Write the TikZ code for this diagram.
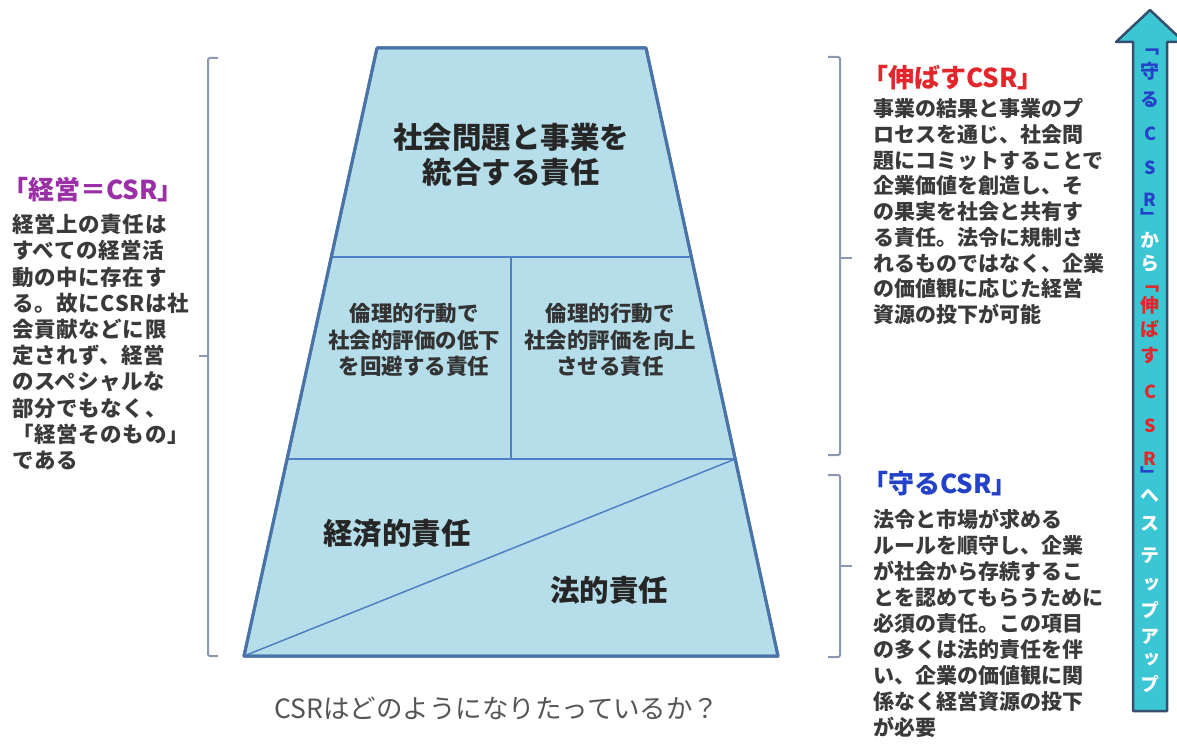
\documentclass[tikz,border=0pt]{standalone}
\usepackage{fontspec}
\setmainfont{Noto Sans CJK JP}
\newfontfamily\cjkv{Noto Sans CJK JP}[RawFeature=+vert]
\newfontfamily\cjkls{Noto Sans CJK JP}[LetterSpace=3]
\usetikzlibrary{calc}
\definecolor{trapfill}{HTML}{B5DEEA}
\definecolor{trapline}{HTML}{4A74A8}
\definecolor{innerline}{HTML}{4F80C4}
\definecolor{brk}{HTML}{8C98B2}
\definecolor{bodytxt}{HTML}{3A3A3A}
\definecolor{purpT}{HTML}{9A2FA6}
\definecolor{redT}{HTML}{E3262B}
\definecolor{blueT}{HTML}{2342C8}
\definecolor{arrowfill}{HTML}{3CC6D3}
\definecolor{arrowline}{HTML}{34506E}
\definecolor{qgray}{HTML}{555555}
\begin{document}
\begin{tikzpicture}[x=1pt,y=-1pt,
  bracketline/.style={draw=brk,line width=2pt,rounded corners=2pt},
  trapout/.style={draw=trapline,line width=3pt,fill=trapfill,line join=round},
  trapin/.style={draw=innerline,line width=1.5pt},
  bigtxt/.style={font=\bfseries\fontsize{29.5}{35}\selectfont,text=black!85,align=center,inner sep=0},
  midtxt/.style={font=\bfseries\fontsize{21.5}{26.5}\selectfont,text=black!80,align=center,inner sep=0},
  titletxt/.style={font=\bfseries\fontsize{26}{28}\selectfont,anchor=west,inner sep=0},
  bodyblock/.style={text=bodytxt,align=left,anchor=north west,inner sep=0},
  vchar/.style={font=\bfseries\cjkv\fontsize{19}{19}\selectfont,inner sep=0},
  vlat/.style={font=\bfseries\fontsize{18}{18}\selectfont,inner sep=0}]
\useasboundingbox (0,0) rectangle (1177,751);
\fill[white] (0,0) rectangle (1177,751);

% trapezoid
\coordinate (TL) at (377,48);
\coordinate (TR) at (646,48);
\coordinate (BL) at (244,656);
\coordinate (BR) at (778,656);
\coordinate (D1L) at ($(TL)!0.344!(BL)$);
\coordinate (D1R) at ($(TR)!0.344!(BR)$);
\coordinate (D2L) at ($(TL)!0.676!(BL)$);
\coordinate (D2R) at ($(TR)!0.676!(BR)$);
\coordinate (VT) at (511,257);
\coordinate (VB) at (511,459);
\path[trapout] (TL) -- (TR) -- (BR) -- (BL) -- cycle;
\draw[trapin] (D1L) -- (D1R);
\draw[trapin] (D2L) -- (D2R);
\draw[trapin] (VT) -- (VB);
\draw[trapin] (BL) -- (D2R);
\draw[draw=trapline,line width=3pt,line join=round] (TL) -- (TR) -- (BR) -- (BL) -- cycle;

\node[bigtxt] (top) at (511,155) {社会問題と事業を\\統合する責任};
\node[midtxt] (ml) at (414,340) {倫理的行動で\\社会的評価の低下\\を回避する責任};
\node[midtxt] (mr) at (610,340) {倫理的行動で\\社会的評価を向上\\させる責任};
\node[bigtxt] (eco) at (397,533) {経済的責任};
\node[bigtxt] (law) at (609,590) {法的責任};
\node[font=\fontsize{26.5}{26.5}\selectfont,text=qgray,inner sep=0] (q) at (497,708) {CSRはどのようになりたっているか？};

% brackets
\draw[bracketline] (218,58) -- (208,58) -- (208,656) -- (218,656);
\draw[draw=brk,line width=2pt] (208,356) -- (199,356);
\draw[bracketline] (828,57) -- (840,57) -- (840,455) -- (828,455);
\draw[draw=brk,line width=2pt] (840,258) -- (852,258);
\draw[bracketline] (828,475) -- (840,475) -- (840,657) -- (828,657);
\draw[draw=brk,line width=2pt] (840,566) -- (852,566);

% left text
\node[titletxt,text=purpT] (lt) at (2,190) {「経営＝CSR」};
\node[bodyblock,font=\bfseries\cjkls\fontsize{21.5}{26.2}\selectfont] (lb) at (12,214)
 {経営上の責任は\\すべての経営活\\動の中に存在す\\る。故にCSRは社\\会貢献などに限\\定されず、経営\\のスペシャルな\\部分でもなく、\\「経営そのもの」\\である};

% right texts
\node[titletxt,text=redT] (rt1) at (862,78) {「伸ばすCSR」};
\node[bodyblock,font=\bfseries\fontsize{21}{25.7}\selectfont] (rb1) at (873,98.5)
 {事業の結果と事業のプ\\ロセスを通じ、社会問\\題にコミットすることで\\企業価値を創造し、そ\\の果実を社会と共有す\\る責任。法令に規制さ\\れるものではなく、企業\\の価値観に応じた経営\\資源の投下が可能};
\node[titletxt,text=blueT] (rt2) at (862,484) {「守るCSR」};
\node[bodyblock,font=\bfseries\fontsize{21}{26.1}\selectfont] (rb2) at (873,508.5)
 {法令と市場が求める\\ルールを順守し、企業\\が社会から存続するこ\\とを認めてもらうために\\必須の責任。この項目\\の多くは法的責任を伴\\い、企業の価値観に関\\係なく経営資源の投下\\が必要};

% arrow
\coordinate (AT) at (1150,10);
\draw[fill=arrowfill,draw=arrowline,line width=2.5pt,line join=round]
  (AT) -- (1184,42) -- (1167,42) -- (1167,711) -- (1133,711) -- (1133,42) -- (1116,42) -- cycle;

\foreach \c/\y/\col [count=\i] in {「/52/blueT,守/71/blueT,る/100/blueT,」/217/blueT,か/240/white,ら/264/white,「/289/redT,伸/305/redT,ば/329/redT,す/356/redT,」/475/blueT,へ/496/white,ス/524/white,テ/556/white,ッ/585/white,プ/610/white,ア/637/white,ッ/660/white,プ/684/white}
  \node[vchar,text=\col] (v\i) at (1150,\y) {\c};
\foreach \c/\y/\col [count=\i] in {C/134/blueT,S/168/blueT,R/200/blueT,C/392/redT,S/426/redT,R/459/redT}
  \node[vlat,text=\col] (w\i) at (1150,\y) {\c};
\end{tikzpicture}
\end{document}
